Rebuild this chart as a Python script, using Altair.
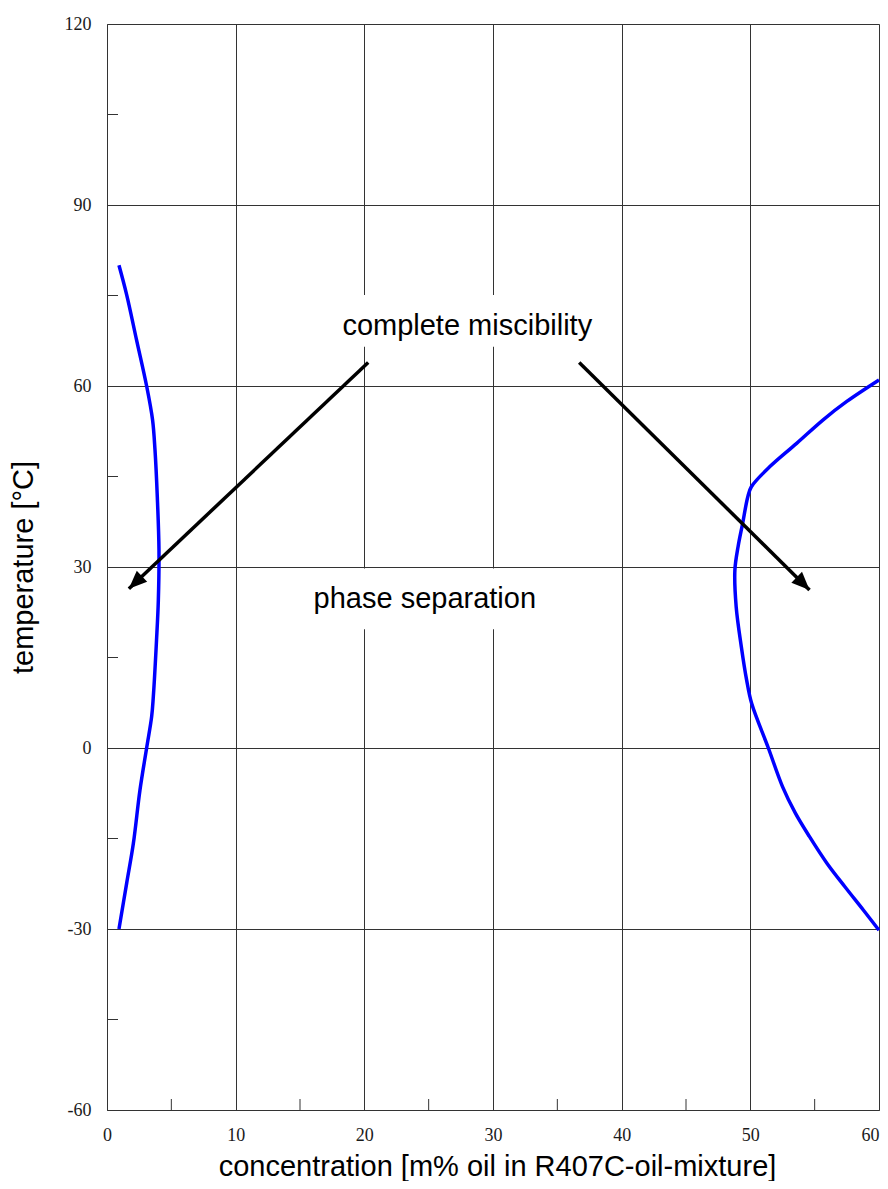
import math
import altair as alt
import pandas as pd

# ---- data ----
left_x = [0.93, 1.53, 2.30, 3.08, 3.54, 3.73, 3.91, 4.04, 3.99, 3.85, 3.60, 3.47, 3.08, 2.56, 2.05, 1.53, 0.93]
left_y = [80.0, 75.1, 67.6, 60.0, 54.4, 49.4, 41.6, 32.8, 24.5, 17.9, 8.5, 5.2, 0.0, -7.0, -15.8, -22.4, -30.0]

right_x = [60.0, 57.47, 55.66, 53.6, 51.5, 50.08, 49.8, 49.4, 49.05, 48.8, 48.9, 49.3, 49.71, 50.1,
           51.4, 52.5, 53.5, 54.6, 55.95, 57.35, 58.78, 60.0]
right_y = [61.0, 57.4, 54.4, 50.5, 46.6, 43.3, 41.6, 37.2, 33.4, 29.5, 23.4, 16.8, 11.3, 7.4,
           0.0, -6.4, -10.8, -14.7, -19.1, -23.0, -26.85, -30.2]

arrow_start_x = [20.3, 36.7]
arrow_start_y = [63.9, 63.9]
arrow_end_x = [1.7, 54.6]
arrow_end_y = [26.4, 26.2]

label_text = ["complete miscibility", "phase separation"]
label_x = [28.0, 24.7]
label_y = [68.4, 23.2]

# white backgrounds behind annotations (data units)
box_x = [17.3, 15.0, 54.5]
box_x2 = [38.7, 34.4, 57.6]
box_y = [75.1, 29.75, 29.75]
box_y2 = [66.5, 19.7, 24.0]

x_ticks = [0, 10, 20, 30, 40, 50, 60]
y_ticks = [-60, -30, 0, 30, 60, 90, 120]
x_minor = [5, 15, 25, 35, 45, 55]
y_minor = [-45, -15, 15, 45, 75, 105]

W, H = 772, 1086
X_DOM, Y_DOM = [0, 60], [-60, 120]

# ---- tables ----
curves = pd.DataFrame(
    [{"curve": "left", "i": i, "x": x, "y": y} for i, (x, y) in enumerate(zip(left_x, left_y))]
    + [{"curve": "right", "i": i, "x": x, "y": y} for i, (x, y) in enumerate(zip(right_x, right_y))]
)

arrow_rows, head_rows = [], []
kx = W / (X_DOM[1] - X_DOM[0])
ky = H / (Y_DOM[1] - Y_DOM[0])
for k in range(len(arrow_start_x)):
    arrow_rows.append({"a": k, "i": 0, "x": arrow_start_x[k], "y": arrow_start_y[k]})
    arrow_rows.append({"a": k, "i": 1, "x": arrow_end_x[k], "y": arrow_end_y[k]})
    dx = (arrow_end_x[k] - arrow_start_x[k]) * kx
    dy = -(arrow_end_y[k] - arrow_start_y[k]) * ky
    ang = math.degrees(math.atan2(dx, -dy)) % 360
    head_rows.append({"x": arrow_end_x[k], "y": arrow_end_y[k], "angle": ang})
arrows = pd.DataFrame(arrow_rows)
heads = pd.DataFrame(head_rows)

labels = pd.DataFrame({"x": label_x, "y": label_y, "t": label_text})
boxes = pd.DataFrame({"x": box_x, "x2": box_x2, "y": box_y, "y2": box_y2})
xm = pd.DataFrame({"x": x_minor})
ym = pd.DataFrame({"y": y_minor})

GRID = "#333333"
xs = alt.Scale(domain=X_DOM, nice=False, zero=False)
ys = alt.Scale(domain=Y_DOM, nice=False, zero=False)

xaxis = alt.Axis(
    values=x_ticks, labelExpr="'' + datum.value", grid=True, gridColor=GRID, gridWidth=1, gridOpacity=1,
    ticks=False, domain=True, domainColor=GRID, domainWidth=1,
    labelFont="Liberation Serif", labelFontSize=18, labelColor="#1a1a1a",
    labelPadding=16, labelFlush=False, labelOverlap=False,
    labelAlign={"condition": {"test": "datum.value >= 60", "value": "right"}, "value": "center"},
    titleFont="Liberation Sans", titleFontSize=29, titleFontWeight="normal", titleColor="black",
    titleX=390, titleY=65, titleBaseline="alphabetic", titleAlign="center",
)
yaxis = alt.Axis(
    values=y_ticks, labelExpr="'' + datum.value", grid=True, gridColor=GRID, gridWidth=1, gridOpacity=1,
    ticks=False, domain=True, domainColor=GRID, domainWidth=1,
    labelFont="Liberation Serif", labelFontSize=18, labelColor="#1a1a1a",
    labelPadding=16, labelFlush=False, labelOverlap=False,
    titleFont="Liberation Sans", titleFontSize=29, titleFontWeight="normal", titleColor="black",
    titleX=-75, titleY=543, titleBaseline="alphabetic", titleAlign="center", titleAngle=270,
)

XT = "concentration [m% oil in R407C-oil-mixture]"
YT = "temperature [°C]"
X = alt.X("x:Q", scale=xs, axis=xaxis, title=XT)
Y = alt.Y("y:Q", scale=ys, axis=yaxis, title=YT)

box_layer = alt.Chart(boxes).mark_rect(color="white", opacity=1).encode(
    x=X, x2="x2:Q", y=Y, y2="y2:Q"
)
ytick_layer = alt.Chart(ym).mark_rule(color=GRID, strokeWidth=1).encode(
    y=Y, x=alt.value(0), x2=alt.value(11)
)
xtick_layer = alt.Chart(xm).mark_rule(color=GRID, strokeWidth=1).encode(
    x=X, y=alt.value(H), y2=alt.value(H - 11)
)
curve_layer = alt.Chart(curves).mark_line(
    color="#0000ff", strokeWidth=3.5, interpolate="catmull-rom"
).encode(x=X, y=Y, order="i:Q", detail="curve:N")
arrow_layer = alt.Chart(arrows).mark_line(color="black", strokeWidth=3.5).encode(
    x=X, y=Y, order="i:Q", detail="a:N"
)
head_layer = alt.Chart(heads).mark_point(
    shape="M0,0L0.42,1L-0.42,1Z", filled=True, size=1300, color="black", opacity=1, strokeWidth=0
).encode(x=X, y=Y, angle=alt.Angle("angle:Q", scale=None))
text_layer = alt.Chart(labels).mark_text(
    font="Liberation Sans", fontSize=29, align="center", baseline="alphabetic", color="black"
).encode(x=X, y=Y, text="t:N")

chart = alt.layer(
    box_layer, ytick_layer, xtick_layer, curve_layer, arrow_layer, head_layer, text_layer
).properties(
    width=W, height=H,
    autosize=alt.AutoSizeParams(type="none"),
    padding={"left": 99, "top": 16, "right": 1, "bottom": 71},
).configure_view(stroke=GRID, strokeWidth=1).configure(background="white")

chart.save("out.html", embed_options={"renderer": "svg", "actions": False})
